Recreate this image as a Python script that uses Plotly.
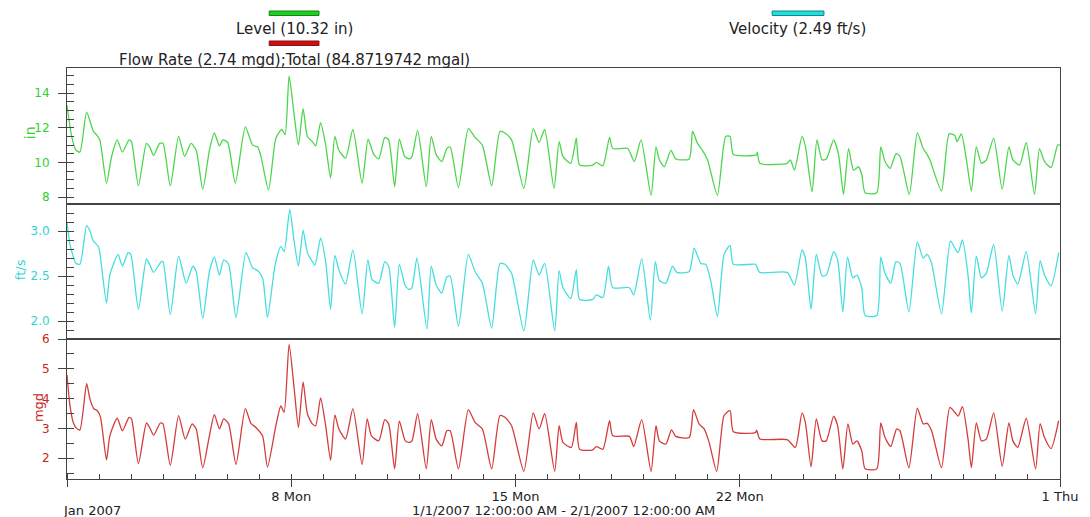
import pandas as pd
import plotly.graph_objects as go
from plotly.subplots import make_subplots

START = "2007-01-01"
END = "2007-02-01"

# (hours since 1/1/2007 00:00, value)
LEVEL_IN = [
    (0, 13.3), (3.5, 11.5), (6.7, 10.7), (9.7, 10.6), (14.7, 12.9), (19.7, 11.8), (22.1, 11.6), (24.6, 11.3),
    (29.6, 8.8), (33.3, 10.3), (37.6, 11.3), (41.5, 10.6), (46.5, 11.3), (48.3, 11.2), (53.5, 8.65), (59.5, 11.1),
    (61.9, 10.9), (64.9, 10.4), (69.4, 11.1), (71.9, 11.1), (77.4, 8.65), (83.6, 11.5), (88.1, 10.35), (93.0, 11.1),
    (96.8, 10.7), (101.7, 8.45), (106.7, 10.7), (110.4, 11.7), (114.2, 10.95), (116.7, 11.3), (120.4, 11.15),
    (126.1, 8.8), (133.6, 12.05), (139.1, 11.0), (142.8, 10.9), (145.3, 10.35), (151.0, 8.4), (156.5, 11.4),
    (160.9, 11.9), (163.4, 11.6), (166.4, 15.0), (170.1, 12.8), (173.4, 11.0), (176.9, 13.1), (180.1, 11.5),
    (183.8, 11.2), (186.3, 10.95), (190.0, 12.3), (193.8, 11.0), (197.5, 9.1), (200.7, 11.5), (203.7, 10.7),
    (208.7, 10.25), (214.2, 11.9), (221.1, 8.8), (225.6, 11.35), (229.9, 10.45), (233.6, 10.2),
    (238.1, 11.45), (241.0, 11.3), (245.5, 8.6), (249.0, 11.35), (253.0, 10.35), (256.5, 10.2), (258.5, 10.35),
    (262.7, 11.85), (269.2, 8.6), (272.9, 11.5), (276.6, 10.45), (280.8, 10.05), (284.6, 10.8), (287.1, 10.9),
    (293.3, 8.55), (300.7, 11.95), (305.7, 11.45), (311.2, 11.0), (318.2, 8.65), (324.4, 11.8), (328.1, 11.7),
    (333.1, 11.3), (342.3, 8.5), (349.3, 11.95), (353.7, 11.15), (357.9, 11.9), (364.9, 8.5), (368.7, 11.2),
    (371.6, 10.35), (377.4, 9.95), (381.6, 11.4), (384.1, 9.85), (394.0, 9.85), (396.5, 10.0), (401.5, 9.8),
    (406.5, 11.45), (408.9, 10.8), (420.1, 10.8), (425.1, 10.05), (430.1, 11.3), (437.6, 8.1), (441.3, 10.9),
    (443.8, 10.15), (447.5, 9.75), (452.5, 10.7), (456.2, 10.2), (466.2, 10.2), (468.7, 11.8), (472.4, 11.1),
    (476.1, 10.7), (479.9, 10.15), (487.3, 8.1),
    (493.5, 11.5), (496.8, 11.5), (499.3, 10.45), (516.7, 10.45), (517.2, 10.6), (519.2, 9.95), (539.6, 9.95),
    (542.0, 10.15), (545.0, 9.55), (550.7, 11.5), (553.2, 10.95), (558.2, 8.3), (561.9, 11.3), (565.7, 10.15),
    (568.9, 10.2), (574.4, 11.3), (578.1, 10.45), (581.8, 8.15), (585.6, 10.8), (589.3, 9.55), (593.0, 9.75),
    (595.5, 9.3), (598.0, 8.25), (606.7, 8.25), (609.7, 10.9), (612.9, 10.05), (616.7, 9.65), (621.1, 10.5),
    (624.1, 10.35), (631.1, 8.15), (637.1, 11.7), (641.5, 10.8), (644.5, 10.45), (646.5, 10.15), (655.2, 8.35),
    (660.9, 11.65), (665.2, 11.55), (666.9, 11.2), (670.1, 11.65), (673.9, 10.15), (677.6, 8.35), (681.3, 10.9),
    (685.1, 9.95), (688.8, 10.15), (694.3, 11.4), (700.7, 8.45), (705.7, 10.9), (708.7, 10.15), (713.7, 9.85),
    (718.7, 11.15), (724.9, 8.15), (728.6, 10.8), (732.4, 10.05), (737.3, 9.7), (742.3, 11.0), (744.0, 11.0),
]

VELOCITY_FTS = [
    (0, 3.09), (2.2, 2.85), (4.2, 2.74), (6.7, 2.64), (9.7, 2.63), (14.7, 3.06), (17.2, 3.0), (19.7, 2.89),
    (23.4, 2.83), (24.6, 2.76), (29.6, 2.2), (32.1, 2.51), (38.3, 2.74), (41.5, 2.61), (45.8, 2.76), (47.8, 2.74),
    (53.5, 2.13), (59.5, 2.69), (61.9, 2.63), (64.9, 2.54), (70.6, 2.66), (71.9, 2.66), (77.4, 2.07), (83.6, 2.72),
    (89.3, 2.42), (94.3, 2.61), (96.8, 2.55), (101.7, 2.03), (106.7, 2.55), (110.4, 2.71), (114.2, 2.51),
    (117.4, 2.68), (121.1, 2.63), (126.6, 2.04), (134.1, 2.76), (139.1, 2.59), (142.8, 2.56), (146.5, 2.48),
    (150.2, 2.04), (156.0, 2.63), (160.2, 2.83), (162.7, 2.77), (166.9, 3.24), (170.1, 2.89), (173.4, 2.61),
    (176.9, 3.01), (180.1, 2.76), (183.8, 2.66), (185.8, 2.62), (190.0, 2.92), (193.8, 2.66), (197.5, 2.13),
    (200.7, 2.73), (203.7, 2.57), (208.7, 2.41), (214.2, 2.79), (221.1, 2.08), (225.4, 2.68), (228.6, 2.46),
    (233.6, 2.42),
    (238.1, 2.66), (241.0, 2.61), (245.5, 1.93), (249.0, 2.63), (253.5, 2.39), (256.5, 2.35), (258.5, 2.37),
    (262.2, 2.7), (269.7, 1.91), (272.9, 2.61), (276.6, 2.4), (280.8, 2.31), (284.6, 2.49), (287.1, 2.5),
    (293.3, 1.94), (300.7, 2.74), (305.7, 2.55), (311.2, 2.42), (318.2, 1.92), (324.4, 2.64), (328.1, 2.63),
    (333.1, 2.53), (342.3, 1.89), (349.3, 2.68), (353.7, 2.51), (357.9, 2.64), (365.4, 1.89), (368.7, 2.56),
    (371.6, 2.37), (377.4, 2.25), (381.6, 2.57), (384.1, 2.24), (394.0, 2.24), (396.5, 2.29), (401.5, 2.26),
    (405.7, 2.61), (408.9, 2.37), (421.4, 2.37), (424.6, 2.29), (430.6, 2.69), (437.1, 2.01), (440.8, 2.66),
    (443.8, 2.45), (448.7, 2.42), (453.7, 2.61), (456.9, 2.54), (466.2, 2.55), (469.9, 2.81), (474.9, 2.64),
    (478.6, 2.63), (482.4, 2.44), (487.3, 2.05), (492.3, 2.74),
    (496.8, 2.84), (499.3, 2.63), (515.9, 2.63), (516.7, 2.61), (519.0, 2.54), (539.6, 2.54), (545.0, 2.4),
    (550.7, 2.79), (553.2, 2.7), (557.5, 2.13), (561.4, 2.74), (565.7, 2.5), (568.9, 2.51), (574.4, 2.77),
    (577.4, 2.68), (581.3, 2.1), (584.8, 2.71), (588.8, 2.48), (591.8, 2.51), (595.5, 2.37), (598.0, 2.06),
    (606.7, 2.06), (609.7, 2.71), (612.9, 2.53), (617.2, 2.42), (621.1, 2.66), (624.1, 2.64), (630.8, 2.1),
    (637.1, 2.88), (641.5, 2.7), (644.5, 2.74), (647.8, 2.64), (655.2, 2.08), (661.9, 2.89), (665.2, 2.81),
    (667.7, 2.76), (670.9, 2.9), (675.1, 2.51), (677.6, 2.09), (681.3, 2.72), (685.1, 2.48), (688.8, 2.53),
    (694.3, 2.85), (700.7, 2.11), (705.7, 2.73), (708.7, 2.51), (712.4, 2.41), (718.7, 2.77), (725.7, 2.08),
    (729.1, 2.67), (732.4, 2.51), (737.3, 2.39), (743.0, 2.76),
]

FLOW_MGD = [
    (0, 4.79), (2.2, 3.77), (4.7, 3.2), (7.2, 3.0), (9.7, 2.95), (14.7, 4.5), (17.2, 3.99), (20.1, 3.66),
    (22.6, 3.6), (25.1, 3.37), (29.6, 1.94), (32.1, 2.75), (37.6, 3.34), (41.5, 2.92), (46.5, 3.37), (48.3, 3.32),
    (53.5, 1.82), (59.5, 3.18), (61.9, 3.03), (64.9, 2.77), (69.9, 3.18), (71.9, 3.15), (77.4, 1.76), (83.6, 3.43),
    (88.6, 2.64), (93.8, 3.15), (96.8, 2.98), (101.7, 1.68), (106.7, 2.75), (110.4, 3.46), (114.2, 2.98),
    (117.4, 3.32), (121.1, 3.15), (126.6, 1.79), (133.6, 3.66), (137.8, 3.17), (141.5, 3.03), (146.5, 2.75),
    (150.2, 1.7), (156.5, 3.09), (160.2, 3.75), (162.7, 3.54), (166.4, 5.82), (170.1, 4.39), (173.4, 3.03),
    (176.9, 4.56), (180.1, 3.49), (183.8, 3.15), (186.3, 3.09), (190.0, 4.02), (193.8, 3.09), (197.5, 1.93),
    (200.7, 3.45), (203.7, 2.98), (208.7, 2.64), (214.2, 3.66), (221.1, 1.79), (224.9, 3.32), (228.1, 2.75),
    (233.6, 2.58),
    (238.1, 3.29), (241.0, 3.15), (245.5, 1.64), (249.0, 3.24), (253.5, 2.58), (256.5, 2.53), (258.5, 2.58),
    (262.7, 3.49), (269.2, 1.64), (272.9, 3.29), (276.6, 2.64), (280.8, 2.41), (284.6, 2.92), (287.1, 2.92),
    (293.3, 1.64), (300.7, 3.63), (305.7, 3.2), (311.2, 2.98), (318.2, 1.64), (324.4, 3.43), (328.1, 3.37),
    (333.1, 3.09), (342.3, 1.56), (349.3, 3.52), (353.7, 2.98), (357.9, 3.49), (365.4, 1.56), (368.7, 3.09),
    (371.6, 2.53), (377.9, 2.36), (381.6, 3.2), (384.1, 2.3), (394.0, 2.28), (396.5, 2.39), (401.5, 2.3),
    (406.5, 3.26), (408.9, 2.75), (421.4, 2.73), (424.6, 2.39), (430.6, 3.29), (437.6, 1.56), (441.3, 3.09),
    (443.8, 2.58), (448.7, 2.47), (452.9, 2.95), (456.2, 2.73), (466.2, 2.69), (469.4, 3.63), (473.6, 3.15),
    (477.4, 2.98), (481.1, 2.53), (486.8, 1.56), (492.3, 3.43),
    (496.8, 3.6), (499.3, 2.89), (515.9, 2.86), (516.7, 2.94), (519.2, 2.64), (539.6, 2.62), (545.7, 2.36),
    (550.7, 3.52), (553.2, 3.2), (557.5, 1.71), (561.4, 3.32), (565.7, 2.58), (568.9, 2.58), (574.4, 3.41),
    (577.4, 3.09), (581.3, 1.64), (585.1, 3.15), (588.8, 2.47), (591.8, 2.58), (595.5, 2.24), (598.0, 1.64),
    (606.7, 1.64), (609.7, 3.18), (612.9, 2.69), (617.2, 2.39), (621.6, 2.98), (624.1, 2.92), (630.8, 1.68),
    (637.1, 3.68), (641.5, 3.15), (644.5, 3.17), (647.8, 2.92), (655.2, 1.68), (661.4, 3.7), (665.2, 3.54),
    (667.7, 3.41), (670.9, 3.73), (675.1, 2.64), (677.6, 1.68), (681.3, 3.18), (685.1, 2.58), (688.8, 2.64),
    (694.3, 3.52), (700.7, 1.73), (705.7, 3.18), (708.7, 2.58), (712.4, 2.36), (718.7, 3.34), (725.7, 1.64),
    (729.1, 3.16), (732.4, 2.69), (737.3, 2.32), (743.0, 3.26),
]

X_TICK_DATES = ["2007-01-01", "2007-01-08", "2007-01-15", "2007-01-22", "2007-02-01"]
X_TICK_LABELS = ["", "8 Mon", "15 Mon", "22 Mon", "1 Thu"]

LEGEND_LEVEL = "Level (10.32 in)"
LEGEND_VELOCITY = "Velocity (2.49 ft/s)"
LEGEND_FLOW = "Flow Rate (2.74 mgd);Total (84.8719742 mgal)"
DATE_RANGE = "1/1/2007 12:00:00 AM - 2/1/2007 12:00:00 AM"
MONTH_LABEL = "Jan 2007"

GREEN, CYAN, RED = "#4cd64c", "#44dede", "#d43c3c"
GREEN_T, CYAN_T, RED_T = "#33cc33", "#2fd4d4", "#cc2222"
FONT = "DejaVu Sans"


def to_times(pairs):
    t0 = pd.Timestamp(START)
    return [t0 + pd.Timedelta(hours=h) for h, _ in pairs], [v for _, v in pairs]


fig = make_subplots(rows=3, cols=1, shared_xaxes=True, vertical_spacing=0)
for row, (pairs, color, name) in enumerate(
    [(LEVEL_IN, GREEN, "Level"), (VELOCITY_FTS, CYAN, "Velocity"), (FLOW_MGD, RED, "Flow Rate")], start=1
):
    x, y = to_times(pairs)
    fig.add_trace(go.Scatter(x=x, y=y, mode="lines", name=name,
                             line=dict(color=color, width=1.3, shape="spline", smoothing=0.6)),
                  row=row, col=1)

W, H = 1090, 517
PX0, PX1, PY0, PY1 = 67, 1064, 68, 479          # plot area in window pixels
L, T, R, B = PX0, PY0, W - PX1, H - PY1


def px(xs):
    return (xs - PX0) / (PX1 - PX0)


def py(ys):
    return (PY1 - ys) / (PY1 - PY0)


d1, d2 = py(204), py(339)
axis_line = dict(showline=True, linecolor="#444444", linewidth=1, mirror=True,
                 showgrid=False, zeroline=False)

fig.update_xaxes(range=[START, END], **axis_line)
for ax in ("xaxis", "xaxis2"):
    fig.layout[ax].update(showticklabels=False, ticks="")
fig.layout.xaxis3.update(
    tickmode="array", tickvals=X_TICK_DATES, ticktext=X_TICK_LABELS,
    ticks="outside", ticklen=7, tickcolor="#444444", ticklabelstandoff=-2,
    tickfont=dict(family=FONT, size=13, color="#222222"),
    minor=dict(tickmode="linear", tick0=START, dtick=86400000, ticks="inside",
               ticklen=5, tickcolor="#444444"),
)

yaxes = [
    ("yaxis", [d1, 1.0], [7.6, 15.45], 2, 8, 0.5, GREEN_T, None),
    ("yaxis2", [d2, d1], [1.8, 3.3], 0.5, 2.0, 0.1, CYAN_T, ".1f"),
    ("yaxis3", [0.0, d2], [1.3, 6.0001], 1, 2, 0.5, RED_T, None),
]
for ax, dom, rng, dt, t0, mdt, col, fmt in yaxes:
    fig.layout[ax].update(
        domain=dom, range=rng, tickmode="linear", tick0=t0, dtick=dt,
        ticks="outside", ticklen=8, tickcolor="#444444", ticklabelstandoff=6,
        tickfont=dict(family=FONT, size=12, color=col),
        minor=dict(tickmode="linear", tick0=t0, dtick=mdt, ticks="inside",
                   ticklen=7, tickcolor="#444444"),
        **axis_line,
    )
    if fmt:
        fig.layout[ax].tickformat = fmt

ann = []
def text(s, xs, ys, size=15, color="#222222", angle=0):
    ann.append(dict(text=s, x=px(xs), y=py(ys), xref="paper", yref="paper",
                    xanchor="center", yanchor="middle", showarrow=False,
                    textangle=angle, font=dict(family=FONT, size=size, color=color)))

text(LEGEND_LEVEL, 295, 29)
text(LEGEND_FLOW, 295, 60)
text(LEGEND_VELOCITY, 800, 29)
text(MONTH_LABEL, 92, 510, size=13)
text(DATE_RANGE, 565, 510, size=13)
text("in", 30, 133, size=14, color=GREEN_T, angle=-90)
text("ft/s", 20, 270, size=13, color=CYAN_T, angle=-90)
text("mgd", 38, 408, size=13, color=RED_T, angle=-90)

shapes = []
for x0, x1, y0, y1, fill, edge in [
    (270, 320, 11, 15.5, "#22cc22", "#118811"),
    (270, 320, 41, 45.5, "#cc1111", "#881111"),
    (775, 827, 11, 15.5, "#22dddd", "#118888"),
]:
    shapes.append(dict(type="rect", xref="paper", yref="paper", x0=px(x0), x1=px(x1),
                       y0=py(y1), y1=py(y0), fillcolor=fill, line=dict(color=edge, width=1)))

fig.update_layout(
    width=W, height=H, margin=dict(l=L, r=R, t=T, b=B),
    paper_bgcolor="white", plot_bgcolor="white", showlegend=False,
    annotations=ann, shapes=shapes, font=dict(family=FONT),
)

# remove the default 8px page margin so the figure fills the window exactly
fig.write_html("out.html", config={"displayModeBar": False},
               post_script="document.body.style.margin='0';document.body.style.overflow='hidden';")
